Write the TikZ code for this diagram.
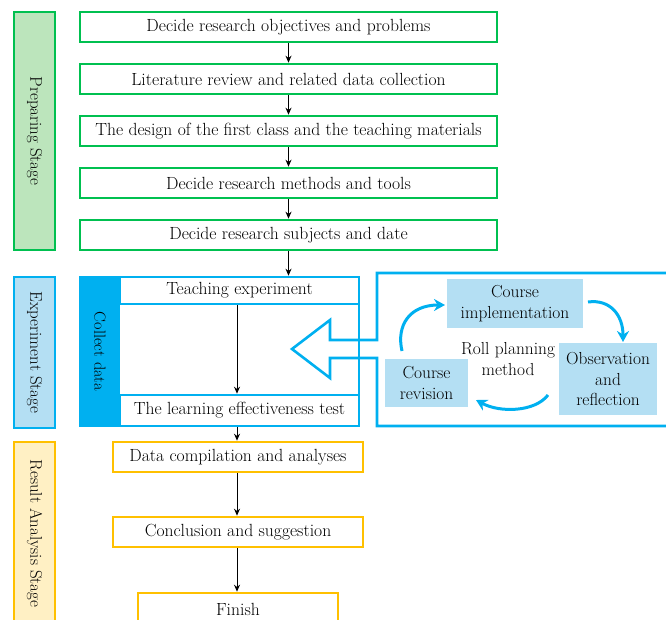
\documentclass[tikz,border=0pt]{standalone}
\usetikzlibrary{arrows.meta}
\definecolor{grn}{RGB}{0,192,80}
\definecolor{grnfill}{RGB}{188,229,188}
\definecolor{cyn}{RGB}{0,176,240}
\definecolor{cynfill}{RGB}{180,223,243}
\definecolor{gld}{RGB}{255,192,0}
\definecolor{gldfill}{RGB}{255,240,196}
\tikzset{
  base/.style={rectangle, inner sep=0pt, line width=2.6pt, font=\fontsize{17.6}{20}\selectfont},
  gbox/.style={base, draw=grn, fill=white},
  cbox/.style={base, draw=cyn, fill=white},
  ybox/.style={base, draw=gld, fill=white},
  stagelbl/.style={base, line width=2.2pt},
  vtext/.style={rotate=-90, font=\fontsize{16.9}{19}\selectfont},
  pbox/.style={base, fill=cynfill, align=center, font=\fontsize{17.4}{20.5}\selectfont},
  flow/.style={-{Stealth[length=7pt,width=6pt]}, line width=1pt},
  loop/.style={-{Stealth[length=11pt,width=12pt]}, line width=3pt, draw=cyn},
}
\begin{document}
\begin{tikzpicture}[x=1pt,y=-1pt]
\useasboundingbox (0,0) rectangle (666,620);

% stage labels
\node[stagelbl, draw=grn, fill=grnfill, minimum width=41pt, minimum height=238pt] (prep) at (34.5,131) {};
\node[vtext] at (prep) {Preparing Stage};
\node[stagelbl, draw=cyn, fill=cynfill, minimum width=41pt, minimum height=151pt] (expst) at (34.5,352.5) {};
\node[vtext] at (expst) {Experiment Stage};
\node[stagelbl, draw=gld, fill=gldfill, minimum width=41pt, minimum height=183pt] (resst) at (34.5,533.5) {};
\node[vtext] at (resst) {Result Analysis Stage};

% preparing stage
\node[gbox, minimum width=417pt, minimum height=30pt] (p1) at (288.5,27) {Decide research objectives and problems};
\node[gbox, minimum width=417pt, minimum height=30pt] (p2) at (288.5,79) {Literature review and related data collection};
\node[gbox, minimum width=417pt, minimum height=30pt] (p3) at (288.5,131) {The design of the first class and the teaching materials};
\node[gbox, minimum width=417pt, minimum height=30pt] (p4) at (288.5,183) {Decide research methods and tools};
\node[gbox, minimum width=417pt, minimum height=30pt] (p5) at (288.5,235) {Decide research subjects and date};

% experiment stage
\node[cbox, minimum width=279pt, minimum height=149pt] (collect) at (219.5,351.5) {};
\node[base, fill=cyn, minimum width=40pt, minimum height=149pt] (strip) at (100,351.5) {};
\node[vtext, font=\fontsize{16.2}{19}\selectfont] at (strip) {Collect data};
\node[cbox, minimum width=239pt, minimum height=27pt] (teach) at (239.5,290.5) {Teaching experiment};
\node[cbox, minimum width=239pt, minimum height=31pt] (learn) at (239.5,410.5) {The learning effectiveness test};

% roll planning panel with its outlined arrow
\draw[cyn, line width=2.6pt, line join=miter]
  (672,273) -- (377,273) -- (377,340) -- (330,340) -- (330,320) -- (292,349)
  -- (330,378) -- (330,358) -- (377,358) -- (377,426) -- (672,426);
\node[pbox, minimum width=136pt, minimum height=49pt] (impl) at (515,303.5) {Course\\implementation};
\node[pbox, minimum width=98pt, minimum height=72pt] (obs) at (608,379) {Observation\\and\\reflection};
\node[pbox, minimum width=83pt, minimum height=48pt] (rev) at (426.5,383) {Course\\revision};
\node[align=center, font=\fontsize{17.4}{20.5}\selectfont] (roll) at (508,359) {Roll planning\\method};

\coordinate (a1s) at (402,351);
\coordinate (a1e) at (445,305);
\coordinate (a2s) at (588,302);
\coordinate (a2e) at (623,342);
\coordinate (a3s) at (548,395);
\coordinate (a3e) at (476,400);
\draw[loop] (a1s) .. controls (396,325) and (410,305) .. (a1e);
\draw[loop] (a2s) .. controls (610,299) and (623,315) .. (a2e);
\draw[loop] (a3s) .. controls (535,412) and (500,413) .. (a3e);

% result analysis stage
\node[ybox, minimum width=250pt, minimum height=30pt] (data) at (238,457) {Data compilation and analyses};
\node[ybox, minimum width=250pt, minimum height=30pt] (concl) at (238,532) {Conclusion and suggestion};
\node[ybox, minimum width=200pt, minimum height=32pt] (fin) at (238,609) {Finish};

% flow arrows
\draw[flow] (p1) -- (p2);
\draw[flow] (p2) -- (p3);
\draw[flow] (p3) -- (p4);
\draw[flow] (p4) -- (p5);
\draw[flow] (p5) -- (p5.south |- collect.north);
\draw[flow] (teach.south -| 237,0) -- (learn.north -| 237,0);
\draw[flow] (learn.south -| 237,0) -- (data.north -| 237,0);
\draw[flow] (data.south -| 237,0) -- (concl.north -| 237,0);
\draw[flow] (concl.south -| 237,0) -- (fin.north -| 237,0);
\end{tikzpicture}
\end{document}
